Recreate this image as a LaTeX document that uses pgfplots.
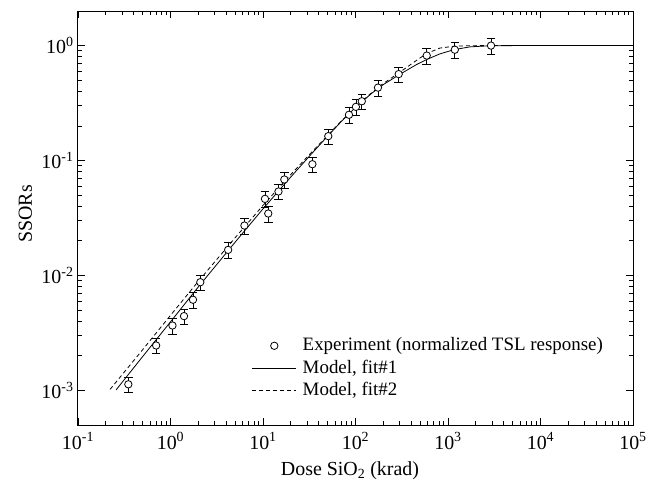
\documentclass[border=0pt]{standalone}
\usepackage{fontspec}
\setmainfont{Liberation Serif}
\usepackage{pgfplots}
\pgfplotsset{compat=1.18}
\pgfplotsset{
  markleg/.style={legend image code/.code={\draw[mark repeat=2, mark phase=2, ##1] plot coordinates {(0bp,0bp) (22bp,0bp) (44bp,0bp)};}},
  lineleg/.style={legend image code/.code={\draw[##1] (0bp,0bp) -- (44bp,0bp);}},
}

\pgfplotstableread{
x y
0.35 1.13e-3
0.70 2.46e-3
1.05 3.67e-3
1.40 4.43e-3
1.75 6.15e-3
2.10 8.74e-3
4.2 0.0167
6.3 0.0272
10.5 0.0464
11.4 0.0346
14.7 0.0538
17.0 0.0684
34.2 0.0929
50.8 0.163
85 0.250
101 0.293
117 0.328
175 0.431
293 0.565
589 0.819
1185 0.92
2917 1.0
}\experiment

\pgfplotstableread{
x y
0.258 1.01e-3
0.5 1.97e-3
1 3.95e-3
2 7.96e-3
5 0.0195
10 0.038
20 0.072
34 0.116
50 0.163
70 0.218
100 0.29
150 0.385
200 0.458
300 0.561
458 0.685
589 0.757
820 0.848
1170 0.923
1730 0.975
2900 0.998
5000 1.0
100000 1.0
}\fitone

\pgfplotstableread{
x y
0.222 1.02e-3
0.5 2.26e-3
1 4.5e-3
2 8.9e-3
5 0.0213
10 0.0407
20 0.0756
34 0.1195
50 0.1655
70 0.220
100 0.293
150 0.39
200 0.468
300 0.585
458 0.745
589 0.855
820 0.952
1170 0.988
1700 0.998
2500 1.0
100000 1.0
}\fittwo

\begin{document}
\begin{tikzpicture}
\begin{axis}[
  name=ax,
  xmode=log, ymode=log,
  scale only axis, width=555bp, height=414bp,
  xmin=0.1, xmax=1e5, ymin=5e-4, ymax=2,
  xtick={1e-1,1e0,1e1,1e2,1e3,1e4,1e5},
  xticklabels={10\textsuperscript{-1},10\textsuperscript{0},10\textsuperscript{1},10\textsuperscript{2},10\textsuperscript{3},10\textsuperscript{4},10\textsuperscript{5}},
  ytick={1e-3,1e-2,1e-1,1},
  yticklabels={10\textsuperscript{-3},10\textsuperscript{-2},10\textsuperscript{-1},10\textsuperscript{0}},
  tick pos=both, tick align=inside,
  major tick length=7bp, minor tick length=4bp,
  every tick/.style={black, line width=0.8bp},
  axis line style={line width=1bp},
  font=\fontsize{20}{24}\selectfont,
  xticklabel style={yshift=-4bp},
  yticklabel style={xshift=-1bp},
  xlabel={Dose SiO\textsubscript{2} (krad)},
  ylabel={SSORs},
  every axis x label/.style={at={(axis description cs:0.49,-0.121)}, anchor=base},
  every axis y label/.style={at={(axis description cs:-0.095,0.51)}, rotate=90, anchor=center},
  legend cell align=left,
  legend style={draw=none, fill=none, at={(0.313,0.216)}, anchor=north west,
    inner sep=0pt, row sep=2.5bp, font=\fontsize{19}{22}\selectfont,
    nodes={inner sep=1bp, text height=14bp, text depth=4bp},
    /tikz/every odd column/.append style={column sep=5bp}},
]
\addplot[only marks, mark=*, mark size=3.7bp,
  mark options={fill=white, draw=black, line width=0.8bp},
  markleg,
  error bars/.cd, y dir=both, y fixed relative=0.155,
  error bar style={line width=0.8bp, black},
  error mark options={rotate=90, mark size=4.3bp, line width=0.8bp, black}]
  table {\experiment};
\addlegendentry{Experiment (normalized TSL response)}
\addplot[black, line width=0.8bp, no marks, lineleg]
  table {\fitone};
\addlegendentry{Model, fit\#1}
\addplot[black, line width=0.8bp, no marks, dash pattern=on 4bp off 3bp, lineleg]
  table {\fittwo};
\addlegendentry{Model, fit\#2}
\end{axis}
\pgfresetboundingbox
\path[use as bounding box] ([xshift=-78bp,yshift=-57bp]ax.south west) rectangle ([xshift=21bp,yshift=11bp]ax.north east);
\end{tikzpicture}
\end{document}
